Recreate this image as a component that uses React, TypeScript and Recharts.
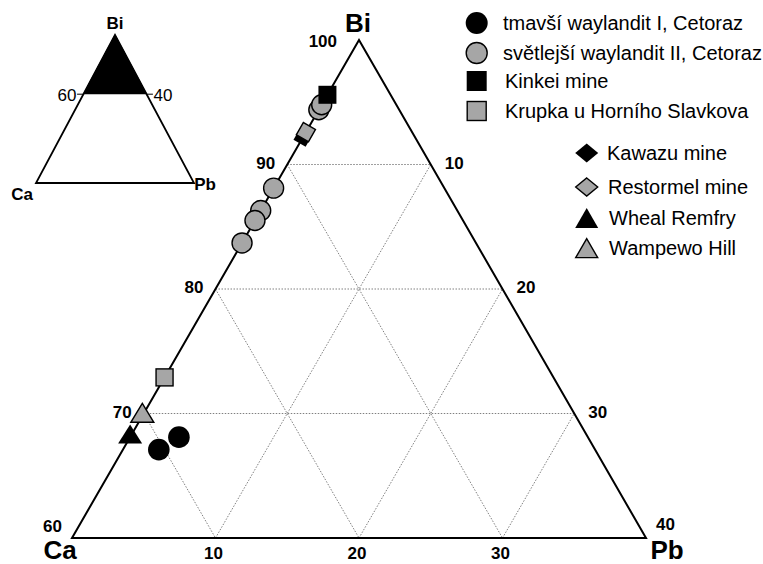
import React from "react";
import { ReferenceLine, Scatter, ScatterChart, XAxis, YAxis } from "recharts";

const FONT = '"Liberation Sans", Arial, Helvetica, sans-serif';
const GRAY = "#a6a6a6";
const H = Math.sqrt(3) / 2;

// compositions in at. %, Ca = 100 - Bi - Pb
const darkWayBi = [67.1, 68.1];
const darkWayPb = [2.5, 3.4];
const lightWayBi = [94.4, 94.8, 88.1, 86.3, 85.5, 83.7];
const lightWayPb = [0, 0, 0, 0, 0, 0];
const kinkeiBi = [95.6];
const kinkeiPb = [0];
const krupkaBi = [72.9];
const krupkaPb = [0];
const kawazuBi = [92.2];
const kawazuPb = [0];
const restormelBi = [92.6];
const restormelPb = [0];
const whealBi = [68.1];
const whealPb = [0];
const wampewoBi = [69.8];
const wampewoPb = [0];

const seriesNames = [
  "tmavší waylandit I, Cetoraz",
  "světlejší waylandit II, Cetoraz",
  "Kinkei mine",
  "Krupka u Horního Slavkova",
  "Kawazu mine",
  "Restormel mine",
  "Wheal Remfry",
  "Wampewo Hill"
];

const biTicks = [100, 90, 80, 70, 60];
const pbSideTicks = [10, 20, 30, 40];
const pbBaseTicks = [10, 20, 30];
const gridSteps = [10, 20, 30];

type Pt = { x: number; y: number; label?: string };

// main diagram shows Bi 60-100 %
const tern = (bi: number, pb: number, label?: string): Pt => ({
  x: pb + (bi - 60) / 2,
  y: (bi - 60) * H,
  label
});
const zip = (bi: number[], pb: number[]) => bi.map((b, i) => tern(b, pb[i]));

// inset shows the whole Ca-Bi-Pb triangle
const ternFull = (bi: number, pb: number, label?: string): Pt => ({
  x: pb + bi / 2,
  y: bi,
  label
});

const PX = 574 / 40;
const PY = 498 / (40 * H);
const xDomain = [-72 / PX, (763 - 72) / PX];
const yDomain = [-(564 - 538) / PY, 538 / PY];

const IPX = 1.58;
const IPY = 1.48;
const xDomainI = [-36 / IPX, (230 - 36) / IPX];
const yDomainI = [-(210 - 183) / IPY, 183 / IPY];

const none = () => <g />;

const dot = (fill: string, r: number, stroke = "none") => (p: any) => (
  <circle cx={p.cx} cy={p.cy} r={r} fill={fill} stroke={stroke} strokeWidth={1.4} />
);
const square = (fill: string, s: number, stroke = "none") => (p: any) => (
  <rect x={p.cx - s / 2} y={p.cy - s / 2} width={s} height={s} fill={fill} stroke={stroke} strokeWidth={1.4} />
);
const tilted = (fill: string, s: number, stroke = "none") => (p: any) => (
  <rect
    x={p.cx - s / 2}
    y={p.cy - s / 2}
    width={s}
    height={s}
    fill={fill}
    stroke={stroke}
    strokeWidth={1.4}
    transform={`rotate(30 ${p.cx} ${p.cy})`}
  />
);
const diamond = (fill: string, w: number, h: number, stroke = "none") => (p: any) => (
  <polygon
    points={`${p.cx},${p.cy - h / 2} ${p.cx + w / 2},${p.cy} ${p.cx},${p.cy + h / 2} ${p.cx - w / 2},${p.cy}`}
    fill={fill}
    stroke={stroke}
    strokeWidth={1.4}
  />
);
const tri = (fill: string, w: number, h: number, stroke = "none") => (p: any) => (
  <polygon
    points={`${p.cx},${p.cy - (2 * h) / 3} ${p.cx - w / 2},${p.cy + h / 3} ${p.cx + w / 2},${p.cy + h / 3}`}
    fill={fill}
    stroke={stroke}
    strokeWidth={1.4}
    strokeLinejoin="miter"
  />
);

const label =
  (anchor: "start" | "middle" | "end", size: number, weight: number, off: (l: string) => number[]) =>
  (p: any) => {
    const l = String(p.payload.label);
    const [dx, dy] = off(l);
    return (
      <text
        x={p.cx + dx}
        y={p.cy + dy}
        textAnchor={anchor}
        fontSize={size}
        fontWeight={weight}
        fontFamily={FONT}
        fill="#000"
      >
        {l}
      </text>
    );
  };

const outline = [tern(60, 0), tern(60, 40), tern(100, 0), tern(60, 0), tern(60, 40)];

const gridSegs = [
  ...gridSteps.map((s) => [tern(100 - s, 0), tern(100 - s, s)]),
  ...gridSteps.map((s) => [tern(60, s), tern(100 - s, s)]),
  ...gridSteps.map((s) => [tern(100 - s, 0), tern(60, 40 - s)])
];

const legendMarkers = [
  dot("#000", 11),
  dot(GRAY, 10.5, "#000"),
  square("#000", 20),
  square(GRAY, 19, "#000"),
  diamond("#000", 23, 19),
  diamond(GRAY, 22, 18, "#000"),
  tri("#000", 23, 20),
  tri(GRAY, 22, 19, "#000")
];
const legendPos = [
  [476.7, 23, 503],
  [476.7, 53, 503],
  [476.7, 81, 505],
  [476.7, 111, 505],
  [586.7, 153, 607],
  [586.7, 187, 608],
  [586.7, 218, 609],
  [586.7, 248, 609]
];

function Inset() {
  const outlineI = [ternFull(0, 0), ternFull(0, 100), ternFull(100, 0), ternFull(0, 0), ternFull(0, 100)];
  const cap = [ternFull(60, 0), ternFull(100, 0), ternFull(60, 40)];
  return (
    <ScatterChart width={230} height={210} margin={{ top: 0, right: 0, bottom: 0, left: 0 }}>
      <XAxis type="number" dataKey="x" domain={xDomainI} hide allowDataOverflow />
      <YAxis type="number" dataKey="y" domain={yDomainI} hide allowDataOverflow />
      <Scatter
        data={cap}
        shape={none}
        line={{ stroke: "#000", strokeWidth: 1, fill: "#000" }}
        isAnimationActive={false}
      />
      <Scatter
        data={outlineI}
        shape={none}
        line={{ stroke: "#000", strokeWidth: 1.8, fill: "none" }}
        isAnimationActive={false}
      />
      <ReferenceLine segment={[{ x: 26, y: 60 }, { x: 30, y: 60 }]} stroke="#000" strokeWidth={1} />
      <ReferenceLine segment={[{ x: 70, y: 60 }, { x: 74, y: 60 }]} stroke="#000" strokeWidth={1} />
      <Scatter
        data={[ternFull(60, 0, "60")]}
        shape={label("end", 17, 400, () => [-7, 7])}
        isAnimationActive={false}
      />
      <Scatter
        data={[ternFull(60, 40, "40")]}
        shape={label("start", 17, 400, () => [7, 7])}
        isAnimationActive={false}
      />
      <Scatter
        data={[ternFull(100, 0, "Bi"), ternFull(0, 0, "Ca"), ternFull(0, 100, "Pb")]}
        shape={label("middle", 17, 700, (l) =>
          l === "Bi" ? [0, -6] : l === "Ca" ? [-14, 17] : [11, 7]
        )}
        isAnimationActive={false}
      />
    </ScatterChart>
  );
}

export default function App() {
  return (
    <div style={{ position: "absolute", left: 0, top: 0, width: 763, height: 564, background: "#fff" }}>
      <div style={{ position: "absolute", left: 0, top: 0 }}>
        <ScatterChart width={763} height={564} margin={{ top: 0, right: 0, bottom: 0, left: 0 }}>
          <XAxis type="number" dataKey="x" domain={xDomain} hide allowDataOverflow />
          <YAxis type="number" dataKey="y" domain={yDomain} hide allowDataOverflow />
          {gridSegs.map((seg, i) => (
            <ReferenceLine
              key={i}
              segment={seg.map((p) => ({ x: p.x, y: p.y }))}
              stroke="#808080"
              strokeWidth={1}
              strokeDasharray="1.5 1.5"
            />
          ))}
          <Scatter
            data={outline}
            shape={none}
            line={{ stroke: "#000", strokeWidth: 2, fill: "none" }}
            isAnimationActive={false}
          />
          <Scatter
            data={biTicks.map((v) => tern(v, 0, String(v)))}
            shape={label("end", 17, 700, (l) => (l === "100" ? [-22, 7] : l === "60" ? [-10, -6] : [-12, 4]))}
            isAnimationActive={false}
          />
          <Scatter
            data={pbSideTicks.map((v) => tern(100 - v, v, String(v)))}
            shape={label("start", 17, 700, (l) => (l === "40" ? [10, -8] : [14, 4]))}
            isAnimationActive={false}
          />
          <Scatter
            data={pbBaseTicks.map((v) => tern(60, v, String(v)))}
            shape={label("middle", 17, 700, () => [-2, 21])}
            isAnimationActive={false}
          />
          <Scatter
            data={[tern(100, 0, "Bi"), tern(60, 0, "Ca"), tern(60, 40, "Pb")]}
            shape={label("middle", 26, 700, (l) =>
              l === "Bi" ? [-1, -8] : l === "Ca" ? [-12, 21] : [21, 21]
            )}
            isAnimationActive={false}
          />
          <Scatter name={seriesNames[1]} data={zip(lightWayBi, lightWayPb)} shape={dot(GRAY, 10, "#000")} isAnimationActive={false} />
          <Scatter name={seriesNames[2]} data={zip(kinkeiBi, kinkeiPb)} shape={square("#000", 18)} isAnimationActive={false} />
          <Scatter name={seriesNames[3]} data={zip(krupkaBi, krupkaPb)} shape={square(GRAY, 17, "#000")} isAnimationActive={false} />
          <Scatter name={seriesNames[4]} data={zip(kawazuBi, kawazuPb)} shape={tilted("#000", 14)} isAnimationActive={false} />
          <Scatter name={seriesNames[5]} data={zip(restormelBi, restormelPb)} shape={tilted(GRAY, 14, "#000")} isAnimationActive={false} />
          <Scatter name={seriesNames[6]} data={zip(whealBi, whealPb)} shape={tri("#000", 24, 19)} isAnimationActive={false} />
          <Scatter name={seriesNames[7]} data={zip(wampewoBi, wampewoPb)} shape={tri(GRAY, 23, 19, "#000")} isAnimationActive={false} />
          <Scatter name={seriesNames[0]} data={zip(darkWayBi, darkWayPb)} shape={dot("#000", 10.8)} isAnimationActive={false} />
        </ScatterChart>
      </div>
      <div style={{ position: "absolute", left: 0, top: 0 }}>
        <Inset />
      </div>
      <svg width={763} height={270} style={{ position: "absolute", left: 0, top: 0, pointerEvents: "none" }}>
        {seriesNames.map((name, i) => {
          const [mx, my, tx] = legendPos[i];
          const isTri = i >= 6;
          const Marker = legendMarkers[i];
          return (
            <g key={name}>
              {Marker({ cx: mx, cy: isTri ? my + 20 / 6 : my })}
              <text x={tx} y={my + 7} fontSize={20} fontFamily={FONT} fill="#000">
                {name}
              </text>
            </g>
          );
        })}
      </svg>
    </div>
  );
}
